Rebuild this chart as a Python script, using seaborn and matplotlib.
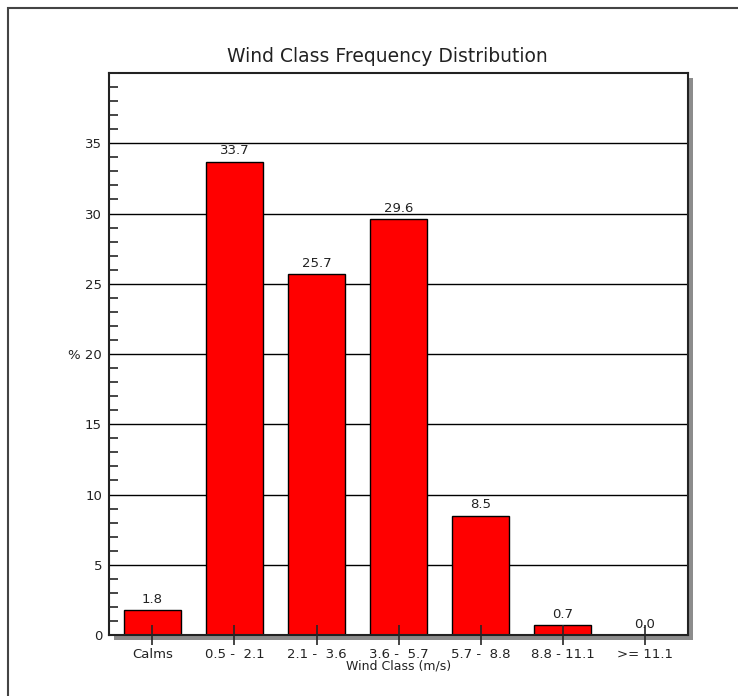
import matplotlib
matplotlib.use("Agg")
import matplotlib.pyplot as plt
import seaborn as sns
import pandas as pd
from matplotlib.patches import Rectangle
from matplotlib.ticker import MultipleLocator

# wind class frequencies (%)
classes = ["Calms", "0.5 -  2.1", "2.1 -  3.6", "3.6 -  5.7", "5.7 -  8.8", "8.8 - 11.1", ">= 11.1"]
freq = [1.8, 33.7, 25.7, 29.6, 8.5, 0.7, 0.0]
yticks = [0, 5, 10, 15, 20, 25, 30, 35]
ytick_labels = ["0", "5", "10", "15", "% 20", "25", "30", "35"]

df = pd.DataFrame({"wind_class": classes, "pct": freq})

sns.set_style("white")
plt.rcParams["font.family"] = ["DejaVu Sans"]

fig = plt.figure(figsize=(7.38, 6.96), dpi=100)
ax = fig.add_axes([0.1477, 0.0876, 0.7846, 0.8075])

# outer frame (only top/left visible) and drop shadow behind the plot area
fig.patches.append(Rectangle((8 / 738, -0.1), 1.2, (696 - 8) / 696 + 0.1, transform=fig.transFigure,
                             fill=False, edgecolor="#444444", lw=1.5, zorder=0))
fig.patches.append(Rectangle((0.1477 + 5 / 738, 0.0876 - 5 / 696), 0.7846, 0.8075,
                             transform=fig.transFigure, facecolor="#8c8c8c", edgecolor="none", zorder=0))
ax.set_zorder(1)
ax.set_facecolor("white")

# horizontal grid drawn by hand so the axis ticks can sit above the bars
for y in yticks[1:]:
    ax.axhline(y, color="black", lw=1.0, zorder=1)

sns.barplot(data=df, x="wind_class", y="pct", color="#ff0000", edgecolor="black",
            linewidth=1.0, width=0.7, saturation=1, ax=ax, zorder=2)

for i, v in enumerate(freq):
    ax.text(i, v + 0.3, f"{v:.1f}", ha="center", va="bottom", fontsize=9.5, color="#222222")

ax.set_ylim(0, 40)
ax.set_xlim(-0.53, 6.53)
ax.set_yticks(yticks)
ax.set_yticklabels(ytick_labels)
ax.yaxis.set_minor_locator(MultipleLocator(1))
ax.set_axisbelow(False)

ax.tick_params(axis="y", which="major", direction="out", length=3, width=1.2, labelsize=9.5, pad=2,
               labelcolor="#222222")
ax.tick_params(axis="y", which="minor", direction="in", length=6.5, width=1.2, left=True)
ax.tick_params(axis="x", which="major", direction="inout", length=14, width=1.2, labelsize=9.5, pad=2,
               bottom=True, labelcolor="#222222")

for s in ax.spines.values():
    s.set_color("#222222")
    s.set_linewidth(1.5)

ax.set_title("Wind Class Frequency Distribution", fontsize=13.5, pad=8, color="#222222", x=0.48)
ax.set_xlabel("Wind Class (m/s)", fontsize=9, labelpad=-1, color="#222222")
ax.set_ylabel("")

fig.savefig("out.png", dpi=100)
